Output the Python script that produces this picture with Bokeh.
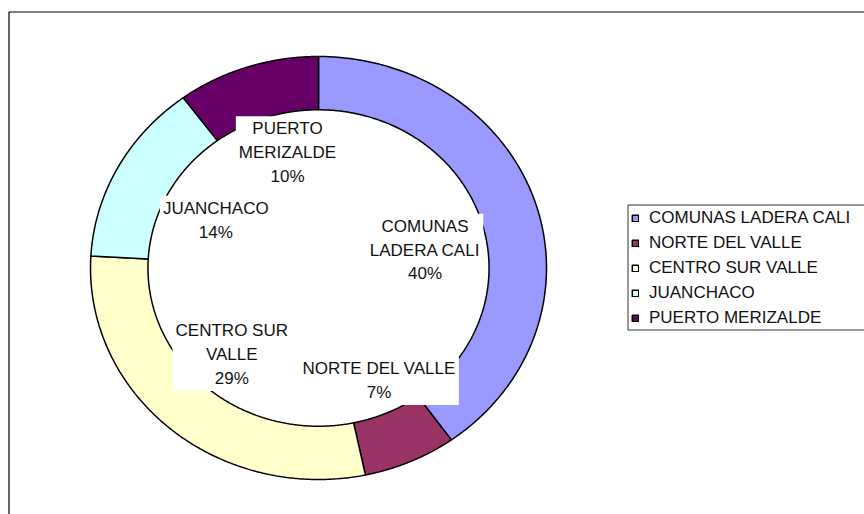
import numpy as np
from bokeh.plotting import figure
from bokeh.models import ColumnDataSource, Range1d, Legend, LegendItem, BoxAnnotation
from bokeh.core.properties import value
from bokeh.embed import file_html
from bokeh.resources import INLINE

# ---- data ----
categories = ["COMUNAS LADERA CALI", "NORTE DEL VALLE", "CENTRO SUR VALLE",
              "JUANCHACO", "PUERTO MERIZALDE"]
shares = [40.1, 6.6, 29.2, 14.0, 10.1]
label_names = ["COMUNAS\nLADERA CALI", "NORTE DEL VALLE", "CENTRO SUR\nVALLE",
               "JUANCHACO", "PUERTO\nMERIZALDE"]
colors = ["#9999FF", "#993366", "#FFFFCC", "#CCFFFF", "#660066"]

# ---- layout / style ----
W, H = 864, 514
CX, CY = 318, 267.5          # ring centre on the page (px)
RX, RY = 228, 211.5          # outer radii (px)
HOLE = 0.748                 # inner / outer radius
label_r = [0.475, 0.595, 0.559, 0.504, 0.563]
label_dtheta = [7.5, -2.8, 2.2, -1.8, 4.2]
FONT = "Liberation Sans"
FS = "17px"


def dx(px):
    return (px - CX) / RX


def dy(py):
    return (CY - py) / RY


p = figure(width=W, height=H, output_backend="svg", toolbar_location=None,
           x_range=Range1d(dx(0), dx(W)), y_range=Range1d(dy(H), dy(0)),
           x_axis_type=None, y_axis_type=None, min_border=0,
           outline_line_color=None, background_fill_color="white")
p.grid.visible = False

# chart-area border (extends past the right/bottom edge of the page)
p.add_layout(BoxAnnotation(left=dx(8.5), top=dy(11.5), right=dx(W + 10),
                           bottom=dy(H + 10), fill_alpha=0, line_color="black",
                           line_alpha=1, line_width=1.2))

total = float(sum(shares))
frac = np.array(shares) / total
ends = np.cumsum(frac) * 2 * np.pi
starts = ends - frac * 2 * np.pi

xs, ys = [], []
for a0, a1 in zip(starts, ends):
    t = np.linspace(a0, a1, 240)
    ox, oy = np.sin(t), np.cos(t)
    xs.append(np.concatenate([ox, HOLE * ox[::-1]]).tolist())
    ys.append(np.concatenate([oy, HOLE * oy[::-1]]).tolist())

src = ColumnDataSource(dict(xs=xs, ys=ys, color=colors, name=categories))
ring = p.patches("xs", "ys", source=src, fill_color="color",
                 line_color="black", line_width=1.5)

mid = (starts + ends) / 2 + np.radians(label_dtheta)
lx = np.array(label_r) * np.sin(mid)
ly = np.array(label_r) * np.cos(mid)
texts = [f"{n}\n{int(round(f * 100))}%" for n, f in zip(label_names, frac)]
lsrc = ColumnDataSource(dict(x=lx, y=ly, text=texts))
p.text("x", "y", text="text", source=lsrc, text_font=value(FONT),
       text_font_size=FS, text_align="center", text_baseline="middle",
       text_line_height=1.25, text_color="#111111",
       background_fill_color="white", padding=3)

# legend frame runs off the right edge of the page, as in the original
p.add_layout(BoxAnnotation(left=dx(627.5), top=dy(204.5), right=dx(W + 10),
                           bottom=dy(329.5), fill_color="white", fill_alpha=1,
                           line_color="#333333", line_alpha=1, line_width=1))

legend = Legend(items=[LegendItem(label=c, renderers=[ring], index=i)
                       for i, c in enumerate(categories)],
                location=(631, 186), label_text_font=FONT,
                label_text_font_size=FS, label_text_color="#111111",
                glyph_width=8, glyph_height=8,
                label_standoff=10, label_height=20, spacing=5, padding=3,
                border_line_color=None, background_fill_alpha=0, margin=0)
p.add_layout(legend)

open("out.html", "w").write(file_html(p, INLINE))
